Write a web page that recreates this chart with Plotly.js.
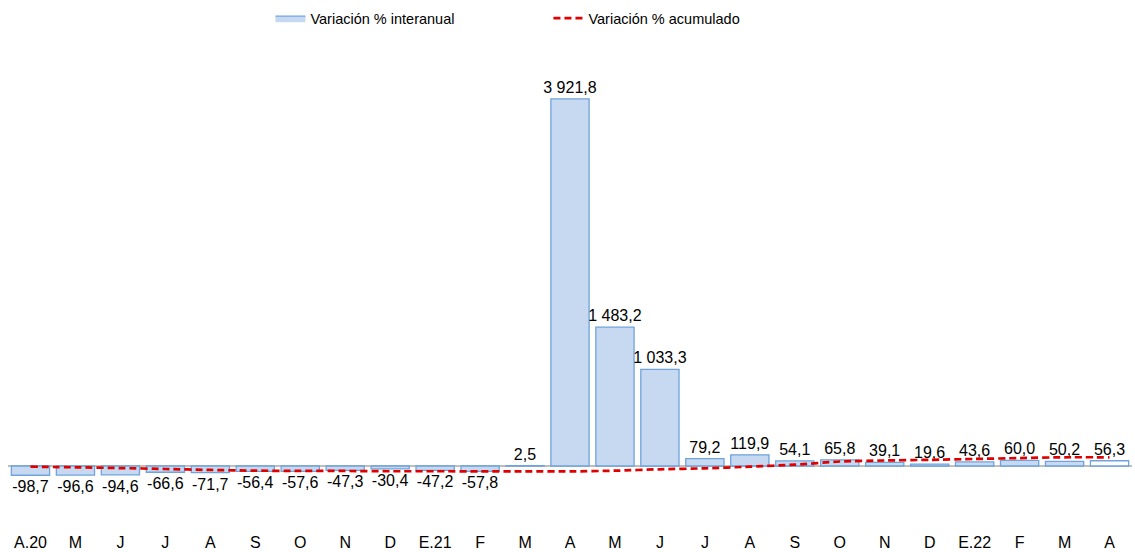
<!DOCTYPE html>
<html>
<head>
<meta charset="utf-8">
<script src="https://cdn.plot.ly/plotly-3.0.1.min.js"></script>
<style>html,body{margin:0;padding:0;background:#fff}#chart{width:1135px;height:552px}</style>
</head>
<body>
<div id="chart"></div>
<script>
const categories = ["A.20","M","J","J","A","S","O","N","D","E.21","F","M","A","M","J","J","A","S","O","N","D","E.22","F","M","A"];
const interanual = [-98.7,-96.6,-94.6,-66.6,-71.7,-56.4,-57.6,-47.3,-30.4,-47.2,-57.8,2.5,3921.8,1483.2,1033.3,79.2,119.9,54.1,65.8,39.1,19.6,43.6,60.0,50.2,56.3];
const acumulado = [-7,-14,-22,-32,-42,-50,-52,-53,-56,-56,-57,-57,-58,-50,-35,-25,-7,14,48,59,66,75,85,93,93];
const barFill = categories.map((c,i)=> i === categories.length-1 ? '#ffffff' : '#c6d9f1');
const xIdx = categories.map((c,i)=>i);

const traces = [
  {
    type:'bar', name:'Variación % interanual', x:xIdx, y:interanual, showlegend:false,
    marker:{color:barFill, line:{color:'#6fa3dc', width:1.3}},
    texttemplate:'%{y:,.1f}', textposition:'outside', constraintext:'none',
    cliponaxis:false, textfont:{family:'Liberation Sans, Arial, sans-serif', size:16, color:'#000'},
    hoverinfo:'skip'
  },
  {
    type:'scatter', mode:'lines', name:'Variación % interanual', x:[null], y:[null],
    fill:'toself', fillcolor:'#c6d9f1', line:{color:'#6fa3dc', width:1.3}, hoverinfo:'skip'
  },
  {
    type:'scatter', mode:'lines', name:'Variación % acumulado', x:xIdx, y:acumulado,
    line:{color:'#e00000', width:2.7, dash:'7px,4px', shape:'spline', smoothing:0.6},
    cliponaxis:false, hoverinfo:'skip'
  }
];

const layout = {
  width:1135, height:552,
  margin:{l:8, r:3, t:60, b:21},
  paper_bgcolor:'#fff', plot_bgcolor:'#fff',
  separators:', ',
  font:{family:'Liberation Sans, Arial, sans-serif', size:15, color:'#000'},
  bargap:0.15,
  showlegend:true,
  legend:{orientation:'h', x:0.2335, xanchor:'left', y:0.996, yanchor:'top', yref:'container',
          font:{size:14.5, color:'#000'}, entrywidth:233, traceorder:'normal'},
  xaxis:{type:'linear', range:[-0.5, 24.5], tickmode:'array', tickvals:xIdx, ticktext:categories,
         showgrid:false, zeroline:false, showline:false, ticks:'', tickfont:{size:16, color:'#000'}},
  yaxis:{range:[-694.4, 4337.6], showticklabels:false, showgrid:false, zeroline:true,
         zerolinecolor:'#bfbfbf', zerolinewidth:2, showline:false, ticks:''}
};

Plotly.newPlot('chart', traces, layout, {staticPlot:true, displayModeBar:false});
</script>
</body>
</html>
